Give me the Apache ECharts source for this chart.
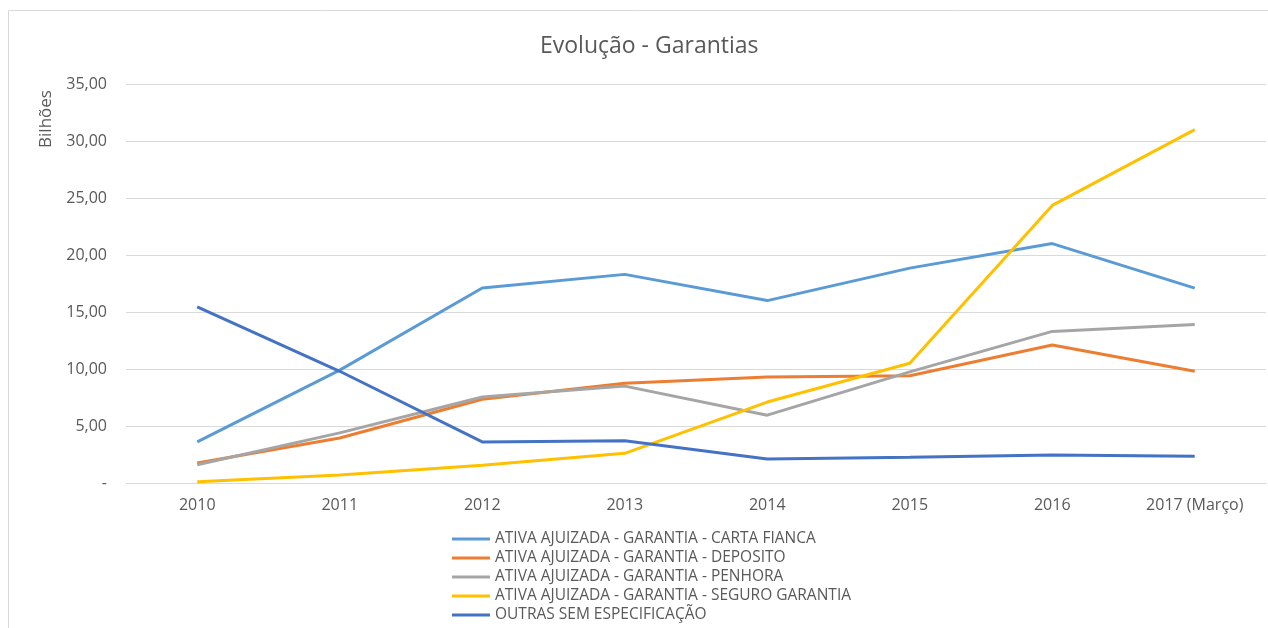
<!DOCTYPE html>
<html>
<head>
<meta charset="utf-8">
<title>Evolução - Garantias</title>
<script src="https://cdn.jsdelivr.net/npm/echarts@6/dist/echarts.min.js"></script>
<style>
    html, body {margin:0; padding:0; background:#fff;}
    #main {width:1268px; height:628px;}
</style>
</head>
<body>
<div id="main"></div>
<script>
// dados (bilhões)
var anos = ['2010', '2011', '2012', '2013', '2014', '2015', '2016', '2017 (Março)'];
var cartaFianca = [3.6, 9.9, 17.1, 18.3, 16.0, 18.85, 21.0, 17.1];
var deposito = [1.75, 3.95, 7.35, 8.75, 9.3, 9.4, 12.1, 9.8];
var penhora = [1.6, 4.4, 7.55, 8.5, 5.95, 9.75, 13.3, 13.9];
var seguroGarantia = [0.1, 0.7, 1.55, 2.6, 7.1, 10.5, 24.35, 31.0];
var outras = [15.45, 9.8, 3.6, 3.7, 2.1, 2.25, 2.45, 2.35];

var nomes = [
    'ATIVA AJUIZADA - GARANTIA - CARTA FIANCA',
    'ATIVA AJUIZADA - GARANTIA - DEPOSITO',
    'ATIVA AJUIZADA - GARANTIA - PENHORA',
    'ATIVA AJUIZADA - GARANTIA - SEGURO GARANTIA',
    'OUTRAS SEM ESPECIFICAÇÃO'
];
var cores = ['#5B9BD5', '#ED7D31', '#A5A5A5', '#FFC000', '#4472C4'];
var valores = [cartaFianca, deposito, penhora, seguroGarantia, outras];

var fonte = '"Open Sans", sans-serif';
var cinza = '#595959';

var myChart = echarts.init(document.getElementById('main'));

var series = [];
for (var i = 0; i < nomes.length; i++) {
    series.push({
        name: nomes[i],
        type: 'line',
        data: valores[i],
        showSymbol: false,
        symbol: 'none',
        lineStyle: {width: 3, color: cores[i]},
        itemStyle: {color: cores[i]}
    });
}

var option = {
    animation: false,
    color: cores,
    textStyle: {fontFamily: fonte},
    title: {
        text: 'Evolução - Garantias',
        left: 535,
        top: 30,
        textStyle: {fontFamily: fonte, fontSize: 23, fontWeight: 'normal', color: cinza}
    },
    legend: {
        orient: 'vertical',
        left: 452,
        top: 531,
        padding: 0,
        icon: 'rect',
        itemWidth: 38,
        itemHeight: 3,
        itemGap: 3,
        textStyle: {fontFamily: fonte, fontSize: 15.5, color: cinza, lineHeight: 16},
        data: nomes
    },
    grid: {left: 126, right: 2, top: 84, bottom: 145},
    xAxis: {
        type: 'category',
        data: anos,
        boundaryGap: true,
        axisLine: {show: true, lineStyle: {color: '#D9D9D9'}},
        axisTick: {show: false},
        axisLabel: {color: cinza, fontSize: 16, fontFamily: fonte, margin: 14}
    },
    yAxis: {
        type: 'value',
        min: 0,
        max: 35,
        interval: 5,
        axisLine: {show: false},
        axisTick: {show: false},
        splitLine: {lineStyle: {color: '#D9D9D9', width: 1}},
        axisLabel: {
            color: cinza,
            fontSize: 16,
            fontFamily: fonte,
            margin: 19,
            formatter: function (v) {
                return v === 0 ? '-' : v.toFixed(2).replace('.', ',');
            }
        }
    },
    graphic: [
        {
            type: 'rect',
            shape: {x: 8.5, y: 10.5, width: 1300, height: 700},
            style: {fill: 'none', stroke: '#D9D9D9', lineWidth: 1},
            z: -1
        },
        {
            type: 'text',
            x: 46,
            y: 119,
            rotation: Math.PI / 2,
            style: {
                text: 'Bilhões',
                fill: cinza,
                font: '17px "Open Sans", sans-serif',
                textAlign: 'center',
                textVerticalAlign: 'middle'
            }
        }
    ],
    series: series
};

myChart.setOption(option);
</script>
</body>
</html>
